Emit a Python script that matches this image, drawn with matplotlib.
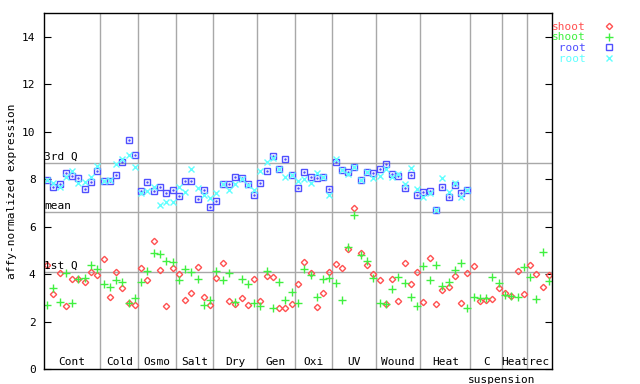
import numpy as np
import matplotlib
matplotlib.use("Agg")
import matplotlib.pyplot as plt

plt.rcParams['font.family'] = 'DejaVu Sans Mono'
plt.rcParams['font.size'] = 8

# groups along the x axis (number of samples in each)
groups = ["Cont", "Cold", "Osmo", "Salt", "Dry", "Gen", "Oxi", "UV",
          "Wound", "Heat", "C", "Heat", "rec"]
group_n = [9, 6, 6, 6, 7, 6, 6, 7, 7, 8, 5, 4, 4]

# shoot, replicate 1 (red)
shoot1 = [4.37, 3.15, 4.03, 2.64, 3.78, 3.78, 3.65, 4.09, 3.95,
          4.62, 3.02, 4.09, 3.43, 2.79, 2.68,
          4.24, 3.75, 5.38, 4.17, 2.64, 4.24,
          3.99, 2.89, 3.19, 4.30, 3.03, 2.68,
          3.82, 4.47, 2.85, 2.72, 2.98, 2.68, 3.78,
          2.85, 3.92, 3.86, 2.57, 2.57, 2.72,
          3.57, 4.51, 4.03, 2.60, 3.19, 4.09,
          4.42, 4.24, 5.04, 6.77, 4.90, 4.37, 4.00,
          3.75, 2.72, 3.78, 2.85, 4.47, 3.57, 4.09,
          2.81, 4.66, 2.72, 3.31, 3.44, 3.90, 2.77, 4.03,
          4.33, 2.85, 2.89, 2.94, 3.40,
          3.19, 3.06, 4.13, 3.15,
          4.37, 3.99, 3.44, 3.95]

# shoot, replicate 2 (green)
shoot2 = [2.68, 3.40, 2.81, 4.03, 2.77, 3.78, 3.82, 4.37, 4.20,
          3.57, 3.44, 3.75, 3.65, 2.79, 2.98,
          3.65, 4.12, 4.90, 4.85, 4.55, 4.51,
          3.75, 4.20, 4.09, 3.78, 2.68, 2.89,
          4.12, 3.75, 4.03, 2.81, 3.78, 3.57, 2.77,
          2.64, 4.12, 2.57, 3.65, 2.89, 3.23,
          2.77, 4.20, 3.95, 3.02, 3.78, 3.82,
          3.61, 2.89, 5.13, 6.49, 4.79, 4.54, 3.82,
          2.77, 2.72, 3.36, 3.86, 3.61, 3.02, 2.64,
          4.33, 3.75, 4.37, 3.48, 3.65, 4.16, 4.47, 2.56,
          3.02, 2.98, 2.98, 3.86, 3.61,
          3.10, 3.06, 3.02, 4.28,
          3.86, 2.94, 4.92, 3.71]

# root, replicate 1 (blue) - only the first 68 samples
root1 = [7.96, 7.65, 7.79, 8.24, 8.13, 8.03, 7.57, 7.86, 8.33,
         7.91, 7.91, 8.16, 8.71, 9.63, 9.00,
         7.51, 7.86, 7.48, 7.65, 7.40, 7.53,
         7.27, 7.91, 7.91, 7.15, 7.53, 6.81,
         7.06, 7.79, 7.79, 8.07, 8.03, 7.78, 7.32,
         7.82, 8.33, 8.97, 8.41, 8.83, 8.16,
         7.61, 8.29, 8.07, 8.03, 8.07, 7.57,
         8.71, 8.40, 8.29, 8.50, 7.96, 8.29, 8.24,
         8.41, 8.62, 8.20, 8.12, 7.61, 8.16, 7.32,
         7.44, 7.48, 6.71, 7.65, 7.23, 7.74, 7.40, 7.53]

# root, replicate 2 (cyan)
root2 = [7.96, 7.82, 7.68, 8.10, 8.33, 7.82, 7.86, 8.07, 8.55,
         7.91, 7.96, 8.62, 8.86, 9.02, 8.50,
         7.43, 7.51, 7.65, 6.92, 7.05, 7.03,
         7.65, 7.44, 8.41, 7.61, 7.32, 7.19,
         7.40, 7.79, 7.53, 7.78, 8.00, 7.74, 7.53,
         8.33, 8.71, 8.88, 8.41, 8.07, 8.16,
         7.91, 7.99, 7.82, 8.24, 8.07, 7.34,
         8.85, 8.40, 8.20, 8.50, 7.96, 8.29, 8.03,
         8.12, 8.41, 8.07, 8.20, 7.78, 8.45, 7.57,
         7.23, 7.40, 6.71, 8.03, 7.44, 7.82, 7.23, 7.53]

q3 = 8.67
mean_val = 6.60
q1 = 4.07

red = '#ff5050'
green = '#40f040'
blue = '#5050ff'
cyan = '#60ffff'
grey = '#a8a8a8'

fig = plt.figure(figsize=(6.4, 3.84), dpi=100)
ax = fig.add_axes([44/640, 15/384, 508/640, 356/384])

n = sum(group_n)
x = np.arange(n)

ax.plot(x, shoot1, 'D', ms=3.2, mfc='none', mec=red, mew=1, label='shoot')
ax.plot(x[:len(shoot2)], shoot2, '+', ms=6, color=green, mew=1, label='shoot')
ax.plot(x[:len(root1)], root1, 's', ms=5, mfc='none', mec=blue, mew=1, label=' root')
ax.plot(x[:len(root1)], root1, '.', ms=1.5, color=blue)
ax.plot(x[:len(root2)], root2, 'x', ms=4.5, color=cyan, mew=1, label=' root')

# quartile / mean lines
for v, name in [(q3, '3rd Q'), (mean_val, 'mean'), (q1, '1st Q')]:
    ax.axhline(v, color=grey, lw=1, zorder=0)
    ax.text(-0.45, v + 0.05, name, ha='left', va='bottom', fontsize=8)

# group boundaries and labels
edges = np.cumsum(group_n)
starts = edges - np.array(group_n)
for e in edges[:-1]:
    ax.axvline(e - 0.5, color=grey, lw=1, zorder=0)
for g, s, e in zip(groups, starts, edges):
    cx = (s + e - 1) / 2.0
    ax.text(cx, 0.1, g, ha='center', va='bottom', fontsize=8)
# "C suspension" is written on two lines
ax.text((starts[10] + edges[10] - 1) / 2.0 + 2.5, -0.25, 'suspension',
        ha='center', va='top', fontsize=8)

ax.set_xlim(-0.5, n - 0.5)
ax.set_ylim(0, 15)
ax.set_yticks([0, 2, 4, 6, 8, 10, 12, 14])
ax.set_xticks([])
ax.tick_params(axis='y', direction='in', length=5, right=True, labelsize=8, pad=6)
ax.set_ylabel('affy-normalized expression', fontsize=8, labelpad=4)
for sp in ax.spines.values():
    sp.set_linewidth(1)

leg = ax.legend(loc='upper left', bbox_to_anchor=(1.0, 0.975), frameon=False,
                markerfirst=False, handlelength=1.0,
                handletextpad=1.6, labelspacing=0.05, borderpad=0,
                borderaxespad=0, fontsize=8)
for t, c in zip(leg.get_texts(), [red, green, blue, cyan]):
    t.set_color(c)

fig.savefig('out.png', dpi=100)
